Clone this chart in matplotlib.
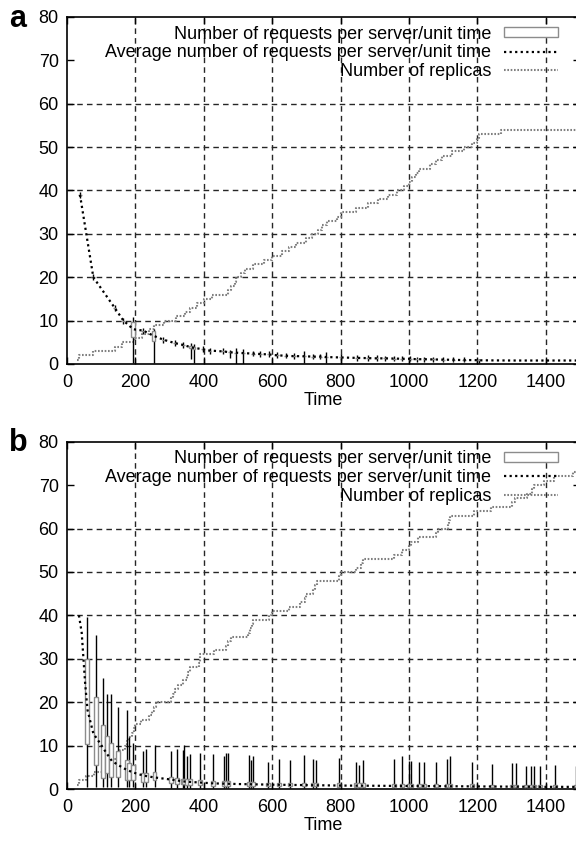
import numpy as np
import matplotlib.pyplot as plt
from matplotlib.patches import Patch
from matplotlib.lines import Line2D

plt.rcParams['font.family'] = ['Liberation Sans', 'DejaVu Sans']

# ---------------- panel a data ----------------
a_rep_t = [30, 35, 75, 140, 160, 195, 220, 240, 255, 285, 320, 345, 360, 380, 400,
           425, 470, 480, 490, 495, 510, 520, 545, 575, 600, 630, 650, 670, 700, 715,
           735, 745, 760, 790, 800, 845, 880, 910, 940, 965, 985, 1000, 1010, 1020,
           1030, 1060, 1080, 1095, 1125, 1160, 1185, 1200, 1205, 1270, 1500]
a_rep_n = [1, 2, 3, 4, 5, 6, 7, 8, 9, 10, 11, 12, 13, 14, 15,
           16, 17, 18, 19, 20, 21, 22, 23, 24, 25, 26, 27, 28, 29, 30,
           31, 32, 33, 34, 35, 36, 37, 38, 39, 40, 41, 42, 43, 44,
           45, 46, 47, 48, 49, 50, 51, 52, 53, 54, 54]

a_avg_t = [38, 77, 139, 165, 194, 223, 253, 282, 316, 339, 365, 397, 417, 456, 477,
           495, 516, 543, 565, 590, 614, 639, 663, 687, 719, 741, 757, 802, 848, 880,
           905, 930, 955, 980, 1002, 1022, 1045, 1070, 1100, 1130, 1160, 1190, 1204,
           1300, 1400, 1500]
a_avg_v = [39, 20, 13, 10, 8, 7.7, 6.5, 5.6, 4.8, 4.4, 3.8, 3.4, 3.1, 2.9, 2.7,
           2.6, 2.5, 2.4, 2.3, 2.2, 2.0, 1.9, 1.8, 1.8, 1.7, 1.7, 1.6, 1.5, 1.4, 1.35,
           1.3, 1.3, 1.25, 1.2, 1.2, 1.1, 1.1, 1.05, 1.0, 0.95, 0.9, 0.9, 0.85,
           0.8, 0.8, 0.8]

a_c_t = [38, 77, 139, 165, 194, 223, 253, 282, 316, 339, 363, 370, 397, 417, 456,
         477, 493, 516, 543, 565, 590, 614, 639, 663, 692, 719, 741, 757, 802, 848,
         880, 905, 930, 955, 980, 1002, 1022, 1045, 1070, 1100, 1130, 1160, 1204]
a_c_lo = [38.3, 19.3, 12.3, 9.3, 0.3, 7.0, 0.3, 4.9, 4.1, 3.7, 1.2, 0.3, 2.7, 2.4, 2.2,
          1.3, 0.0, 0.0, 1.8, 1.7, 1.6, 1.4, 1.3, 1.2, 0.2, 1.1, 1.1, 0.2, 0.9, 0.8,
          0.8, 0.7, 0.7, 0.7, 0.6, 0.6, 0.5, 0.5, 0.5, 0.4, 0.4, 0.4, 0.3]
a_c_q1 = [39, 20, 13, 10, 6.3, 7.7, 5.3, 5.6, 4.8, 4.4, 3.6, 3.4, 3.4, 3.1, 2.9,
          2.7, 2.6, 2.5, 2.4, 2.3, 2.2, 2.0, 1.9, 1.8, 1.8, 1.7, 1.7, 1.6, 1.5, 1.4,
          1.35, 1.3, 1.3, 1.25, 1.2, 1.2, 1.1, 1.1, 1.05, 1.0, 0.95, 0.9, 0.85]
a_c_q3 = [39, 20, 13, 10, 9.7, 7.7, 7.6, 5.6, 4.8, 4.4, 4.2, 4.0, 3.4, 3.1, 2.9,
          2.7, 2.6, 2.5, 2.4, 2.3, 2.2, 2.0, 1.9, 1.8, 1.8, 1.7, 1.7, 1.6, 1.5, 1.4,
          1.35, 1.3, 1.3, 1.25, 1.2, 1.2, 1.1, 1.1, 1.05, 1.0, 0.95, 0.9, 0.85]
a_c_hi = [39.7, 20.7, 13.7, 10.7, 10.9, 8.4, 8.0, 6.3, 5.5, 5.1, 4.8, 4.7, 4.1, 3.8, 3.6,
          3.2, 3.7, 3.4, 3.1, 3.0, 2.9, 2.7, 2.6, 2.5, 3.0, 2.4, 2.4, 2.8, 2.2, 2.1,
          2.0, 2.0, 1.9, 1.9, 1.8, 1.8, 1.7, 1.7, 1.6, 1.6, 1.5, 1.5, 1.2]

# ---------------- panel b data ----------------
b_rep_t = [30, 35, 55, 80, 120, 125, 130, 150, 155, 170, 175, 180, 190, 195, 200,
           215, 240, 250, 255, 260, 305, 310, 315, 325, 340, 350, 355, 360, 385, 388,
           390, 430, 465, 470, 480, 530, 535, 540, 545, 590, 600, 650, 680, 695, 700,
           720, 725, 730, 795, 800, 845, 860, 865, 955, 980, 1000, 1005, 1025, 1080,
           1085, 1115, 1118, 1120, 1190, 1240, 1300, 1310, 1345, 1360, 1365, 1395,
           1425, 1480, 1500]
b_rep_n = [1, 2, 3, 4, 5, 6, 7, 8, 9, 10, 11, 12, 13, 14, 15,
           16, 17, 18, 19, 20, 21, 22, 23, 24, 25, 26, 27, 28, 29, 30,
           31, 32, 33, 34, 35, 36, 37, 38, 39, 40, 41, 42, 43, 44, 45,
           46, 47, 48, 49, 50, 51, 52, 53, 54, 55, 56, 57, 58, 59,
           60, 61, 62, 63, 64, 65, 66, 67, 68, 69, 70, 71,
           72, 73, 73]

b_avg_t = [35, 43, 53, 60, 77, 97, 116, 131, 150, 175, 194, 223, 253, 302, 346,
           389, 428, 500, 600, 700, 800, 900, 1000, 1100, 1200, 1300, 1400, 1500]
b_avg_v = [40, 36, 24.4, 18.2, 12.8, 10.5, 8.2, 6.5, 5.5, 4.4, 3.8, 3.1, 2.7, 2.2, 1.7,
           1.5, 1.3, 1.15, 1.0, 0.9, 0.8, 0.75, 0.7, 0.65, 0.6, 0.55, 0.5, 0.5]

b_c_t = [58, 85, 106, 118, 129, 150, 175, 182, 194, 222, 231, 256, 305, 321, 339,
         343, 350, 360, 389, 428, 458, 465, 472, 531, 538, 544, 588, 619, 653, 692,
         718, 729, 794, 844, 853, 865, 955, 979, 999, 1005, 1029, 1043, 1078, 1111,
         1119, 1184, 1242, 1301, 1313, 1342, 1357, 1366, 1383, 1427, 1488]
b_c_lo = [0.5] * 12 + [0.3] * 7 + [0.2] * 36
b_c_q1 = [10.4, 5.5, 2.5, 3.6, 2.8, 2.8, 2.1, 2.1, 2.1, 1.7, 1.7, 2.0, 1.3, 1.2, 1.1,
          1.1, 1.0, 1.0, 0.9, 0.8, 0.8, 0.8, 0.8, 0.7, 0.7, 0.7, 0.6, 0.6, 0.6, 0.6,
          0.6, 0.6, 0.5, 0.5, 0.5, 0.5, 0.5, 0.5, 0.5, 0.5, 0.5, 0.5, 0.5, 0.5,
          0.5, 0.4, 0.4, 0.4, 0.4, 0.4, 0.4, 0.4, 0.4, 0.4, 0.4]
b_c_q3 = [29.9, 21.1, 14.7, 12.1, 10.5, 8.8, 6.8, 5.9, 5.5, 3.6, 3.6, 4.0, 2.8, 2.6, 2.4,
          2.4, 2.3, 2.3, 2.0, 1.9, 1.8, 1.8, 1.8, 1.7, 1.7, 1.7, 1.5, 1.5, 1.5, 1.4,
          1.4, 1.4, 1.3, 1.3, 1.3, 1.3, 1.2, 1.2, 1.2, 1.2, 1.2, 1.2, 1.1, 1.1,
          1.1, 1.1, 1.0, 1.0, 1.0, 1.0, 1.0, 1.0, 1.0, 1.0, 1.0]
b_c_hi = [39.6, 35.5, 25.5, 22.0, 22.0, 18.9, 18.2, 12.0, 10.5, 8.7, 9.3, 10.2, 8.7, 9.2, 8.9,
          10.2, 7.6, 8.0, 8.4, 8.0, 7.5, 8.3, 8.2, 7.8, 6.7, 7.6, 6.3, 6.9, 6.7, 7.8,
          6.9, 6.7, 7.1, 6.3, 5.5, 6.7, 6.9, 7.5, 6.5, 6.5, 6.3, 6.3, 6.3, 6.9,
          7.5, 6.3, 5.8, 6.1, 6.1, 5.2, 5.4, 5.2, 5.2, 5.5, 5.4]

x_ticks = [0, 200, 400, 600, 800, 1000, 1200, 1400]
y_ticks = [0, 10, 20, 30, 40, 50, 60, 70, 80]

labels = ["Number of requests per server/unit time",
          "Average number of requests per server/unit time",
          "Number of replicas"]

BOX_EDGE = "0.55"
REP_COLOR = "0.5"
FS = 13


def draw_panel(ax, letter, rep_t, rep_n, avg_t, avg_v, c_t, c_lo, c_q1, c_q3, c_hi):
    # grid (gnuplot style, dashed), no line at 70
    for x in x_ticks[1:]:
        ax.axvline(x, color="0.15", lw=1.0, ls=(0, (4, 3)), zorder=0)
    for y in y_ticks[1:7]:
        ax.axhline(y, color="0.15", lw=1.0, ls=(0, (4, 3)), zorder=0)

    ax.plot(rep_t, rep_n, drawstyle="steps-post", color=REP_COLOR,
            lw=1.5, ls=(0, (0.8, 0.8)), zorder=2)

    # candlesticks: whiskers then boxes
    ax.vlines(c_t, c_lo, c_hi, color="black", lw=1.0, zorder=3)
    c_q1 = np.array(c_q1)
    c_q3 = np.array(c_q3)
    ax.bar(c_t, c_q3 - c_q1, bottom=c_q1, width=11, facecolor="white",
           edgecolor=BOX_EDGE, lw=1.0, zorder=4)

    ax.plot(avg_t, avg_v, color="black", lw=1.6, ls=(0, (1, 1.5)), zorder=5)

    ax.set_xlim(0, 1500)
    ax.set_ylim(0, 80)
    ax.set_xticks(x_ticks)
    ax.set_yticks(y_ticks)
    ax.tick_params(direction="in", top=True, right=True, length=5,
                   width=1, labelsize=FS)
    ax.tick_params(axis="x", pad=7)
    ax.tick_params(axis="y", pad=6)
    for s in ax.spines.values():
        s.set_linewidth(1.2)
    ax.set_xlabel("Time", fontsize=FS, labelpad=1)

    handles = [Patch(facecolor="white", edgecolor=BOX_EDGE, lw=1.0),
               Line2D([], [], color="black", lw=1.6, ls=(0, (1, 1.5))),
               Line2D([], [], color=REP_COLOR, lw=1.5, ls=(0, (0.8, 0.8)))]
    ax.legend(handles, labels, loc="upper right", bbox_to_anchor=(0.957, 0.975),
              frameon=False, markerfirst=False, fontsize=FS, labelspacing=0.1,
              handlelength=3.0, handleheight=0.5, handletextpad=0.7,
              borderpad=0, borderaxespad=0)

    ax.text(-0.113, 0.995, letter, transform=ax.transAxes, fontsize=22,
            fontweight="bold", ha="left", va="center")


fig = plt.figure(figsize=(5.76, 8.41), dpi=100)
ax_a = fig.add_axes([0.1163, 0.5672, 0.8907, 0.4126])
ax_b = fig.add_axes([0.1163, 0.0618, 0.8907, 0.4130])

draw_panel(ax_a, "a", a_rep_t, a_rep_n, a_avg_t, a_avg_v,
           a_c_t, a_c_lo, a_c_q1, a_c_q3, a_c_hi)
draw_panel(ax_b, "b", b_rep_t, b_rep_n, b_avg_t, b_avg_v,
           b_c_t, b_c_lo, b_c_q1, b_c_q3, b_c_hi)

fig.savefig("out.png", dpi=100)
